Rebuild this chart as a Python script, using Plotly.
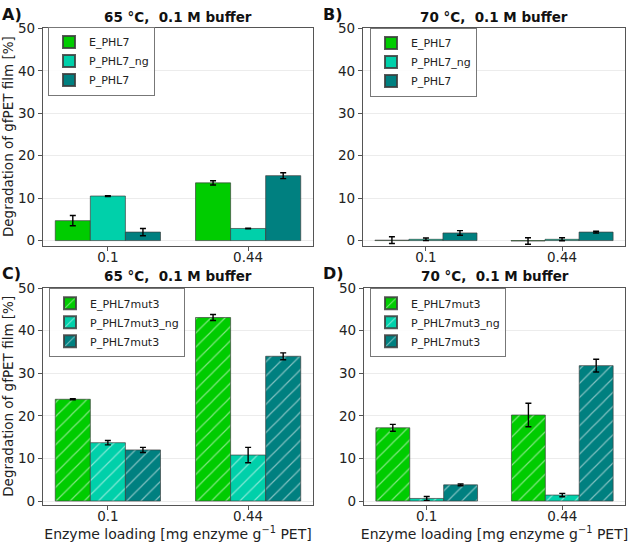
import plotly.graph_objects as go

W, H = 633, 547

loadings = ["0.1", "0.44"]

# Panel A (65 °C, wild-type)
a_names = ["E_PHL7", "P_PHL7_ng", "P_PHL7"]
a_vals = [[4.7, 13.6], [10.5, 2.85], [2.0, 15.3]]
a_errs = [[1.2, 0.5], [0.1, 0.05], [0.85, 0.7]]

# Panel B (70 °C, wild-type)
b_names = ["E_PHL7", "P_PHL7_ng", "P_PHL7"]
b_vals = [[0.1, -0.1], [0.3, 0.3], [1.8, 2.0]]
b_errs = [[0.8, 0.75], [0.3, 0.35], [0.55, 0.2]]

# Panel C (65 °C, mut3)
c_names = ["E_PHL7mut3", "P_PHL7mut3_ng", "P_PHL7mut3"]
c_vals = [[23.9, 43.1], [13.7, 10.8], [12.0, 34.0]]
c_errs = [[0.15, 0.7], [0.5, 1.8], [0.6, 0.8]]

# Panel D (70 °C, mut3)
d_names = ["E_PHL7mut3", "P_PHL7mut3_ng", "P_PHL7mut3"]
d_vals = [[17.2, 20.2], [0.6, 1.4], [3.8, 31.8]]
d_errs = [[0.8, 2.75], [0.45, 0.4], [0.2, 1.5]]

colors = ["#00cc00", "#00d0aa", "#008080"]

panels = [
    ("A)", "65 °C,\u00a0\u00a00.1 M buffer", a_names, a_vals, a_errs, False),
    ("B)", "70 °C,\u00a0\u00a00.1 M buffer", b_names, b_vals, b_errs, False),
    ("C)", "65 °C,\u00a0\u00a00.1 M buffer", c_names, c_vals, c_errs, True),
    ("D)", "70 °C,\u00a0\u00a00.1 M buffer", d_names, d_vals, d_errs, True),
]

# pixel boxes (left, right, top, bottom)
boxes = [(43, 313, 20, 243), (363, 625, 20, 243), (43, 313, 286, 508), (364, 625, 286, 508)]
yranges = [[-1.2, 50.2], [-1.2, 50.2], [-0.9, 50.1], [-0.9, 50.1]]
legend_pos = [(48, 19), (370, 20), (49, 286), (370, 286)]
label_pos = [(0, 7), (321, 7), (0, 271), (321, 271)]
title_y = [9, 9, 274, 274]

FONT = "DejaVu Sans"

def px(x):
    return x / W

def py(y):
    return 1 - y / H

fig = go.Figure()
layout = dict(
    width=W, height=H, margin=dict(l=0, r=0, t=0, b=0),
    paper_bgcolor="white", plot_bgcolor="white",
    barmode="group", bargap=0.25, bargroupgap=0.0,
    font=dict(family=FONT, size=12, color="#222"),
)
annotations = []

for i, (lab, title, names, vals, errs, hatched) in enumerate(panels):
    n = i + 1
    xa = "x" if n == 1 else f"x{n}"
    ya = "y" if n == 1 else f"y{n}"
    leg = "legend" if n == 1 else f"legend{n}"
    for j in range(3):
        marker = dict(color=colors[j], line=dict(color="rgba(60,60,60,0.85)", width=0.8))
        if hatched:
            marker["pattern"] = dict(shape="/", fgcolor="white", fillmode="overlay",
                                     size=10, solidity=0.12)
        fig.add_trace(go.Bar(
            x=loadings, y=vals[j], name=names[j], marker=marker,
            error_y=dict(type="data", array=errs[j], color="black", thickness=1.4, width=3),
            xaxis=xa, yaxis=ya, legend=leg,
        ))
    l, r, t, b = boxes[i]
    xkey = "xaxis" if n == 1 else f"xaxis{n}"
    ykey = "yaxis" if n == 1 else f"yaxis{n}"
    xaxis = dict(
        domain=[px(l), px(r)], anchor=ya, type="category",
        range=[-0.4625, 1.4625], showline=True, mirror=True, linecolor="#555",
        linewidth=1.2, ticks="outside", ticklen=4, tickcolor="#555",
        tickfont=dict(family=FONT, size=13.5, color="#222"), showgrid=False,
        ticklabelstandoff=-5,
    )
    if n >= 3:
        xaxis["title"] = dict(text="Enzyme loading [mg enzyme g<sup>−1</sup> PET]",
                              font=dict(family=FONT, size=14, color="#222"), standoff=4)
    yaxis = dict(
        domain=[py(b), py(t)], anchor=xa, range=yranges[i],
        tickvals=[0, 10, 20, 30, 40, 50], showline=True, mirror=True, linecolor="#555",
        linewidth=1.2, ticks="outside", ticklen=4, tickcolor="#555",
        tickfont=dict(family=FONT, size=13.5, color="#222"),
        showgrid=True, gridcolor="#ececec", gridwidth=1, zeroline=False,
    )
    if n in (1, 3):
        yaxis["title"] = dict(text="Degradation of gfPET film [%]",
                              font=dict(family=FONT, size=13.5, color="#222"), standoff=2)
    layout[xkey] = xaxis
    layout[ykey] = yaxis
    lx, ly = legend_pos[i]
    layout[leg] = dict(
        x=px(lx), y=py(ly), xanchor="left", yanchor="top",
        bordercolor="#777", borderwidth=1, bgcolor="rgba(255,255,255,0.9)",
        font=dict(family=FONT, size=11, color="#222"), tracegroupgap=0,
        itemsizing="constant",
    )
    annotations.append(dict(
        text=f"<b>{title}</b>", x=px((l + r) / 2), y=py(title_y[i]),
        xref="paper", yref="paper", showarrow=False, xanchor="center", yanchor="middle",
        font=dict(family=FONT, size=13.5, color="#111"),
    ))
    annotations.append(dict(
        text=f"<b>{lab}</b>", x=px(label_pos[i][0]), y=py(label_pos[i][1]),
        xref="paper", yref="paper", showarrow=False, xanchor="left", yanchor="middle",
        font=dict(family=FONT, size=16, color="#111"),
    ))

layout["annotations"] = annotations
layout["showlegend"] = True
fig.update_layout(**layout)
fig.write_html("out.html")
